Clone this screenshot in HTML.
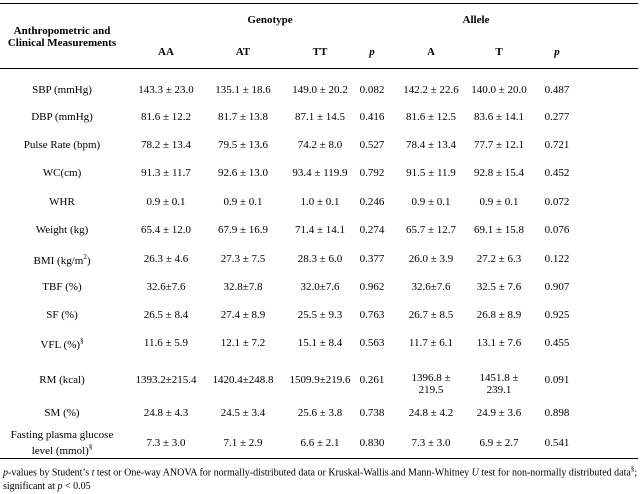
<!DOCTYPE html>
<html><head><style>
body{margin:0;width:641px;height:491px;background:#fff;position:relative;font-family:"Liberation Serif",serif;font-size:11px;color:#000;overflow:hidden}
.t{position:absolute;white-space:nowrap;transform:translate(-50%,-50%);text-align:center;line-height:12px}
.b{font-weight:bold}
.l{position:absolute;left:0;width:638px;height:1px;background:#000}
</style></head><body>
<div class="l" style="top:3px"></div>
<div class="l" style="top:68px"></div>
<div class="l" style="top:458px"></div>
<div class="t b" style="left:62px;top:37px">Anthropometric and<br>Clinical Measurements</div>
<div class="t b" style="left:270px;top:20px">Genotype</div>
<div class="t b" style="left:476px;top:20px">Allele</div>
<div class="t b" style="left:166px;top:52px">AA</div>
<div class="t b" style="left:243px;top:52px">AT</div>
<div class="t b" style="left:320px;top:52px">TT</div>
<div class="t b" style="left:372px;top:52px"><i>p</i></div>
<div class="t b" style="left:431px;top:52px">A</div>
<div class="t b" style="left:499px;top:52px">T</div>
<div class="t b" style="left:557px;top:52px"><i>p</i></div>
<div id="rows"></div>
<div style="position:absolute;left:3px;top:462px;font-size:10px;line-height:14px"><i>p</i>-values by Student’s <i>t</i> test or One-way ANOVA for normally-distributed data or Kruskal-Wallis and Mann-Whitney <i>U</i> test for non-normally distributed data<sup style="font-size:7px">§</sup>;<br>significant at <i>p</i> &lt; 0.05</div>
<script>
var R=[[90,"SBP (mmHg)","143.3 ± 23.0","135.1 ± 18.6","149.0 ± 20.2","0.082","142.2 ± 22.6","140.0 ± 20.0","0.487"],
[117,"DBP (mmHg)","81.6 ± 12.2","81.7 ± 13.8","87.1 ± 14.5","0.416","81.6 ± 12.5","83.6 ± 14.1","0.277"],
[145,"Pulse Rate (bpm)","78.2 ± 13.4","79.5 ± 13.6","74.2 ± 8.0","0.527","78.4 ± 13.4","77.7 ± 12.1","0.721"],
[173,"WC(cm)","91.3 ± 11.7","92.6 ± 13.0","93.4 ± 119.9","0.792","91.5 ± 11.9","92.8 ± 15.4","0.452"],
[202,"WHR","0.9 ± 0.1","0.9 ± 0.1","1.0 ± 0.1","0.246","0.9 ± 0.1","0.9 ± 0.1","0.072"],
[230,"Weight (kg)","65.4 ± 12.0","67.9 ± 16.9","71.4 ± 14.1","0.274","65.7 ± 12.7","69.1 ± 15.8","0.076"],
[259,"BMI (kg/m<sup style='font-size:7px'>2</sup>)","26.3 ± 4.6","27.3 ± 7.5","28.3 ± 6.0","0.377","26.0 ± 3.9","27.2 ± 6.3","0.122"],
[287,"TBF (%)","32.6±7.6","32.8±7.8","32.0±7.6","0.962","32.6±7.6","32.5 ± 7.6","0.907"],
[315,"SF (%)","26.5 ± 8.4","27.4 ± 8.9","25.5 ± 9.3","0.763","26.7 ± 8.5","26.8 ± 8.9","0.925"],
[343,"VFL (%)<sup style='font-size:7px'>§</sup>","11.6 ± 5.9","12.1 ± 7.2","15.1 ± 8.4","0.563","11.7 ± 6.1","13.1 ± 7.6","0.455"],
[382,"RM (kcal)","1393.2±215.4","1420.4±248.8","1509.9±219.6","0.261","1396.8 ±<br>219.5","1451.8 ±<br>239.1","0.091"],
[413,"SM (%)","24.8 ± 4.3","24.5 ± 3.4","25.6 ± 3.8","0.738","24.8 ± 4.2","24.9 ± 3.6","0.898"],
[443,"Fasting plasma glucose<br>level (mmol)<sup style='font-size:7px'>§</sup>","7.3 ± 3.0","7.1 ± 2.9","6.6 ± 2.1","0.830","7.3 ± 3.0","6.9 ± 2.7","0.541"]];
var X=[62,166,243,320,372,431,499,557],h="";
R.forEach(function(r){for(var i=0;i<8;i++){var y=r[0];if(r[0]==382&&(i<5||i==7))y=380;if(r[0]==382&&(i==5||i==6))y=384;h+='<div class="t" style="left:'+X[i]+'px;top:'+y+'px">'+r[i+1]+'</div>';}});
document.getElementById("rows").innerHTML=h;
</script>
</body></html>
